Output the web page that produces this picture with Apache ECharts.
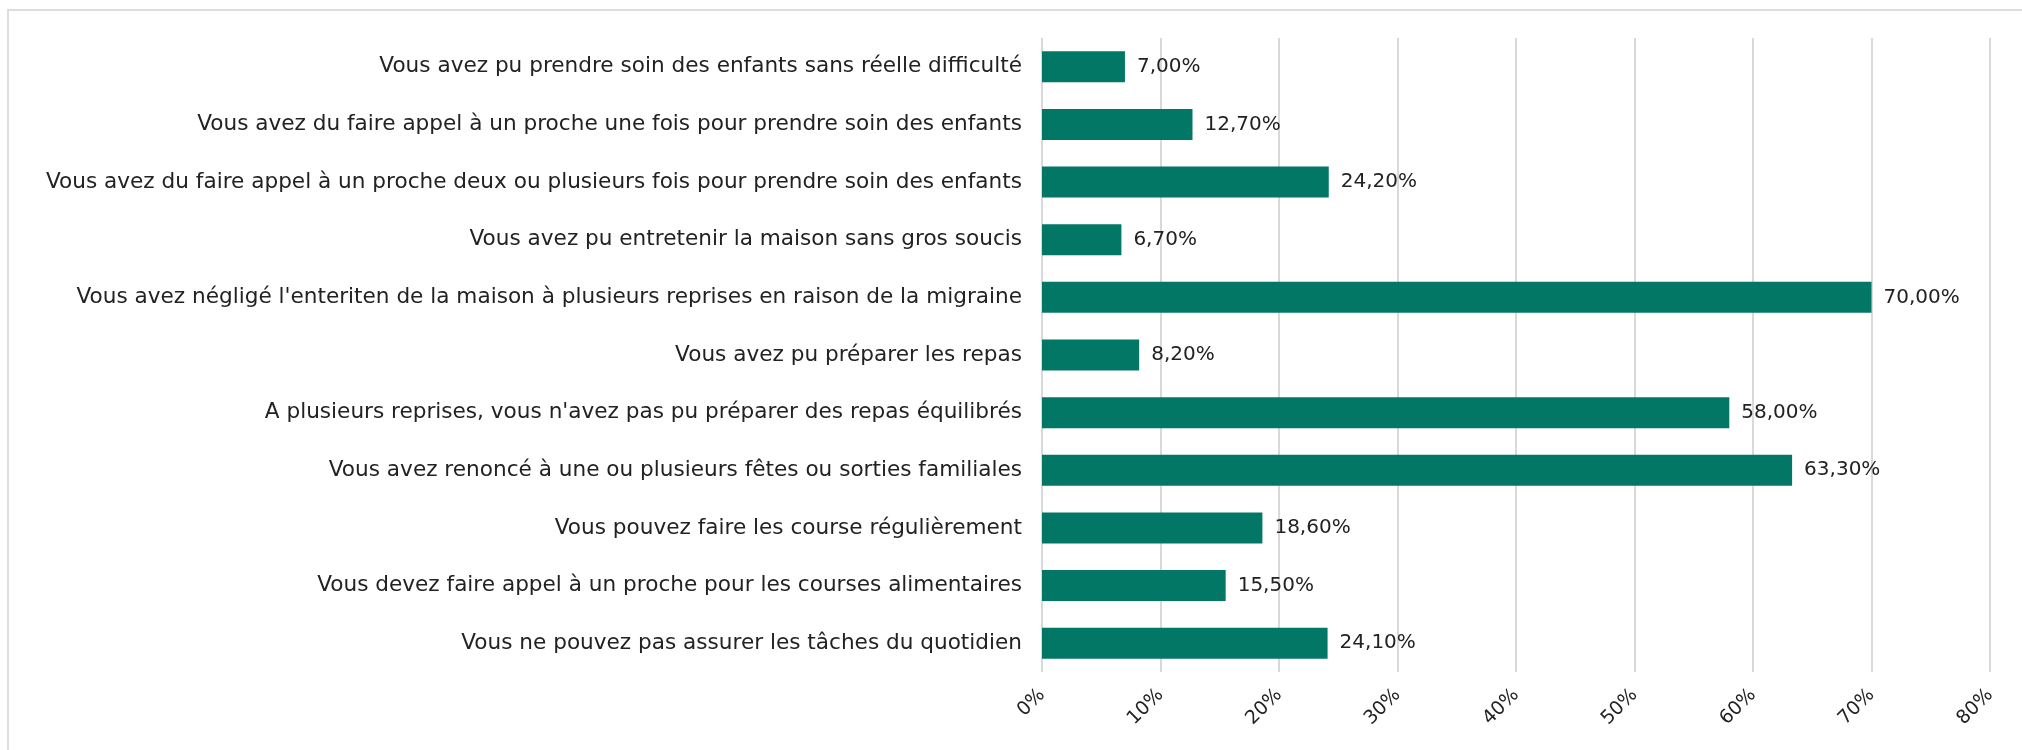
<!DOCTYPE html>
<html>
<head>
<meta charset="utf-8">
<script src="https://cdn.jsdelivr.net/npm/echarts@6/dist/echarts.min.js"></script>
<style>
  html, body { margin: 0; padding: 0; background: #fff; }
  #chart { width: 2022px; height: 750px; }
</style>
</head>
<body>
<div id="chart"></div>
<script>
// categories, top to bottom
const categories = [
  "Vous avez pu prendre soin des enfants sans réelle difficulté",
  "Vous avez du faire appel à un proche une fois pour prendre soin des enfants",
  "Vous avez du faire appel à un proche deux ou plusieurs fois pour prendre soin des enfants",
  "Vous avez pu entretenir la maison sans gros soucis",
  "Vous avez négligé l'enteriten de la maison à plusieurs reprises en raison de la migraine",
  "Vous avez pu préparer les repas",
  "A plusieurs reprises, vous n'avez pas pu préparer des repas équilibrés",
  "Vous avez renoncé à une ou plusieurs fêtes ou sorties familiales",
  "Vous pouvez faire les course régulièrement",
  "Vous devez faire appel à un proche pour les courses alimentaires",
  "Vous ne pouvez pas assurer les tâches du quotidien"
];
const percentages = [7.0, 12.7, 24.2, 6.7, 70.0, 8.2, 58.0, 63.3, 18.6, 15.5, 24.1];

const chart = echarts.init(document.getElementById("chart"));
const option = {
  animation: false,
  graphic: [{
    type: "rect",
    shape: { x: 8, y: 10, width: 2100, height: 900 },
    style: { fill: "none", stroke: "#dddddd", lineWidth: 2 },
    silent: true
  }],
  grid: { left: 1042, right: 32, top: 38, bottom: 78 },
  xAxis: {
    type: "value",
    min: 0,
    max: 80,
    interval: 10,
    axisLine: { show: false },
    axisTick: { show: false },
    splitLine: { show: true, lineStyle: { color: "#d9d9d9", width: 2 } },
    axisLabel: {
      rotate: 45,
      margin: 20,
      color: "#222",
      fontFamily: "DejaVu Sans",
      fontSize: 19,
      formatter: v => v + "%"
    }
  },
  yAxis: {
    type: "category",
    inverse: true,
    data: categories,
    axisLine: { show: false },
    axisTick: { show: false },
    axisLabel: {
      margin: 20,
      color: "#222",
      fontFamily: "DejaVu Sans",
      fontSize: 21.6
    }
  },
  series: [{
    type: "bar",
    data: percentages,
    barWidth: 31,
    itemStyle: { color: "#027766" },
    label: {
      show: true,
      position: "right",
      distance: 12,
      color: "#222",
      fontFamily: "DejaVu Sans",
      fontSize: 20,
      formatter: p => p.value.toFixed(2).replace(".", ",") + "%"
    }
  }]
};
chart.setOption(option);
</script>
</body>
</html>
